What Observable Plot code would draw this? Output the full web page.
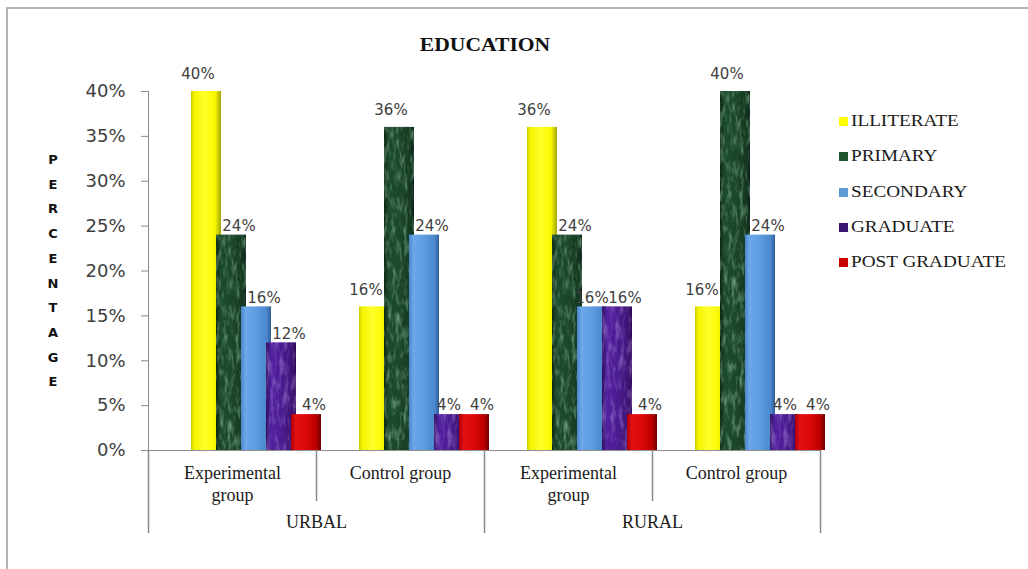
<!DOCTYPE html>
<html>
<head>
<meta charset="utf-8">
<script src="https://cdn.jsdelivr.net/npm/d3@7"></script>
<script src="https://cdn.jsdelivr.net/npm/@observablehq/plot@0.6"></script>
<style>
  html, body { margin: 0; padding: 0; background: #fff; }
  #chart { position: relative; width: 1028px; height: 569px; overflow: hidden; background: #fff; }
  #chart > svg.plot { position: absolute; left: 0; top: 0; }
  .frame-line { position: absolute; left: 6px; top: 7px; width: 1100px; height: 700px;
    border-top: 2px solid #b4b4b4; border-left: 2px solid #b4b4b4; }
  .title { position: absolute; left: 385px; width: 200px; top: 35px; text-align: center;
    font: bold 18px "Liberation Serif", serif; line-height: 20px; color: #111;
    transform: scaleX(1.2); transform-origin: center; }
  .ylabel { position: absolute; left: 43px; width: 20px; top: 148px; text-align: center;
    font: bold 13px "DejaVu Sans", sans-serif; line-height: 24.7px; color: #111; }
  .legend-item { position: absolute; left: 839px; height: 20px; white-space: nowrap;
    font: 17px "Liberation Serif", serif; line-height: 20px; color: #1a1a1a; }
  .legend-item .sw { position: absolute; left: 0; top: 6px; width: 9px; height: 9px; }
  .legend-item .lb { position: absolute; left: 12px; top: 0; transform: scaleX(1.13); transform-origin: left center; }
</style>
</head>
<body>
<!-- fills for the bars: shaded cylinders, two of them with a mottled texture -->
<svg width="0" height="0" style="position:absolute">
  <defs>
    <linearGradient id="gYellow" x1="0" x2="1" y1="0" y2="0">
      <stop offset="0" stop-color="#c8c800"/>
      <stop offset="0.1" stop-color="#f4f400"/>
      <stop offset="0.45" stop-color="#ffff2a"/>
      <stop offset="0.8" stop-color="#f8f800"/>
      <stop offset="1" stop-color="#a3a300"/>
    </linearGradient>
    <linearGradient id="gGreen" x1="0" x2="1" y1="0" y2="0">
      <stop offset="0" stop-color="#0c2715"/>
      <stop offset="0.15" stop-color="#1c4b2c"/>
      <stop offset="0.55" stop-color="#1a4629"/>
      <stop offset="0.85" stop-color="#143822"/>
      <stop offset="1" stop-color="#091c0f"/>
    </linearGradient>
    <linearGradient id="gBlue" x1="0" x2="1" y1="0" y2="0">
      <stop offset="0" stop-color="#4a86c8"/>
      <stop offset="0.15" stop-color="#6aa8ea"/>
      <stop offset="0.5" stop-color="#5e9de0"/>
      <stop offset="0.85" stop-color="#4b89cf"/>
      <stop offset="1" stop-color="#2f5f99"/>
    </linearGradient>
    <linearGradient id="gPurple" x1="0" x2="1" y1="0" y2="0">
      <stop offset="0" stop-color="#2c0d58"/>
      <stop offset="0.15" stop-color="#5222a0"/>
      <stop offset="0.55" stop-color="#4a1b8e"/>
      <stop offset="0.85" stop-color="#3c1474"/>
      <stop offset="1" stop-color="#230948"/>
    </linearGradient>
    <linearGradient id="gRed" x1="0" x2="1" y1="0" y2="0">
      <stop offset="0" stop-color="#a50000"/>
      <stop offset="0.15" stop-color="#e21010"/>
      <stop offset="0.5" stop-color="#dc0808"/>
      <stop offset="0.85" stop-color="#b80000"/>
      <stop offset="1" stop-color="#6e0000"/>
    </linearGradient>
    <filter id="mottleGreen" x="0" y="0" width="1" height="1">
      <feTurbulence type="fractalNoise" baseFrequency="0.25 0.07" numOctaves="3" seed="7"/>
      <feColorMatrix type="matrix" values="0 0 0 0 0.32  0 0 0 0 0.56  0 0 0 0 0.39  1.5 0 0 0 -0.7"/>
    </filter>
    <filter id="mottlePurple" x="0" y="0" width="1" height="1">
      <feTurbulence type="fractalNoise" baseFrequency="0.22 0.06" numOctaves="3" seed="3"/>
      <feColorMatrix type="matrix" values="0 0 0 0 0.46  0 0 0 0 0.28  0 0 0 0 0.74  1.3 0 0 0 -0.6"/>
    </filter>
    <pattern id="pGreen" patternUnits="objectBoundingBox" width="1" height="1">
      <rect width="31" height="420" fill="url(#gGreen)"/>
      <rect width="31" height="420" filter="url(#mottleGreen)"/>
    </pattern>
    <pattern id="pPurple" patternUnits="objectBoundingBox" width="1" height="1">
      <rect width="31" height="420" fill="url(#gPurple)"/>
      <rect width="31" height="420" filter="url(#mottlePurple)"/>
    </pattern>
  </defs>
</svg>

<div id="chart">
  <div class="frame-line"></div>
</div>

<script>
// Education level by area and group (percent of respondents)
const groupAreas = ["URBAL", "URBAL", "RURAL", "RURAL"];
const groupNames = ["Experimental group", "Control group", "Experimental group", "Control group"];
const groupTickLabels = ["Experimental\ngroup", "Control group", "Experimental\ngroup", "Control group"];
const areas = ["URBAL", "RURAL"];
const categories = ["ILLITERATE", "PRIMARY", "SECONDARY", "GRADUATE", "POST GRADUATE"];

const illiterate   = [40, 16, 36, 16];
const primary      = [24, 36, 24, 40];
const secondary    = [16, 24, 16, 24];
const graduate     = [12, 4, 16, 4];
const postGraduate = [4, 4, 4, 4];

const yTicks = [0, 5, 10, 15, 20, 25, 30, 35, 40];

const barFills = ["url(#gYellow)", "url(#pGreen)", "url(#gBlue)", "url(#pPurple)", "url(#gRed)"];
const swatchColors = ["#ffff00", "#1e5631", "#5b9bd5", "#3b1670", "#c80000"];

const series = [illiterate, primary, secondary, graduate, postGraduate];
const groupKeys = groupAreas.map((a, i) => `${a} · ${groupNames[i]}`);
const rows = groupKeys.flatMap((group, i) =>
  categories.map((category, j) => {
    const value = series[j][i];
    const next = j + 1 < series.length ? series[j + 1][i] : null;
    return {
      group, category, value,
      // a label rides higher (and a little left) when its bar tops the group
      // or the bar to its right is taller, so the neighbour does not hide it
      raised: value === d3.max(series, s => s[i]) || (next !== null && next > value),
      // a lower label stays closer to its bar when the next bar is level with it
      level: next === value
    };
  })
);
const groupLabelRows = groupKeys.map((key, i) => ({key, label: groupTickLabels[i]}));
// each area label sits on the boundary between its two groups
const areaLabelRows = areas.map(area => ({key: groupKeys[groupAreas.lastIndexOf(area)], label: area}));

// a plain straight stroke for the category-axis dividers
const lineShape = {draw(context, l) { context.moveTo(0, 0); context.lineTo(0, -l); }};
const axisGray = "#8c8c8c";
const valueLabel = {
  fx: "group", x: "category", y: "value", text: d => `${d.value}%`,
  lineAnchor: "middle", fontFamily: "DejaVu Sans", fontSize: 15, fill: "#404040"
};

const plot = Plot.plot({
  width: 1028,
  height: 569,
  marginLeft: 147,
  marginRight: 207,
  marginTop: 91,
  marginBottom: 119,
  fx: {domain: groupKeys, padding: 0, axis: null},
  x: {domain: categories, paddingInner: 0, paddingOuter: 0.75, align: 1, axis: null},
  y: {domain: [0, 40], axis: null},
  color: {domain: categories, range: barFills},
  style: {background: "transparent", overflow: "visible"},
  marks: [
    Plot.barY(rows, {fx: "group", x: "category", y: "value", fill: "category", insetRight: -5}),
    Plot.text(rows.filter(d => d.raised), {...valueLabel, dx: -6, dy: -17}),
    Plot.text(rows.filter(d => !d.raised && !d.level), {...valueLabel, dx: 10, dy: -9}),
    Plot.text(rows.filter(d => !d.raised && d.level), {...valueLabel, dx: 2, dy: -9}),
    Plot.ruleY([0], {stroke: axisGray}),
    Plot.frame({anchor: "left", facetAnchor: "left", stroke: axisGray}),
    Plot.axisY(yTicks, {
      tickFormat: d => `${d}%`, tickSize: 7, tickPadding: 16, label: null,
      fontFamily: "DejaVu Sans", fontSize: 18, stroke: axisGray, fill: "#404040"
    }),
    // long dividers bound each area, short ones split the groups inside it
    Plot.vector(groupKeys.filter((k, i) => i === 0 || groupAreas[i] !== groupAreas[i - 1]), {
      fx: d => d, frameAnchor: "bottom-left", rotate: 180, anchor: "start",
      length: 82, shape: lineShape, stroke: axisGray
    }),
    Plot.vector(groupKeys.slice(-1), {
      fx: d => d, frameAnchor: "bottom-right", rotate: 180, anchor: "start",
      length: 82, shape: lineShape, stroke: axisGray
    }),
    Plot.vector(groupKeys.filter((k, i) => i > 0 && groupAreas[i] === groupAreas[i - 1]), {
      fx: d => d, frameAnchor: "bottom-left", rotate: 180, anchor: "start",
      length: 50, shape: lineShape, stroke: axisGray
    }),
    Plot.text(groupLabelRows, {
      fx: "key", text: "label", frameAnchor: "bottom", lineAnchor: "top", dy: 14, lineHeight: 1.17,
      fontFamily: "Liberation Serif", fontSize: 18, fill: "#1a1a1a", ariaLabel: "serif labels"
    }),
    Plot.text(areaLabelRows, {
      fx: "key", text: "label", frameAnchor: "bottom-left", textAnchor: "middle", lineAnchor: "top", dy: 65,
      fontFamily: "Liberation Serif", fontSize: 18, fill: "#1a1a1a", ariaLabel: "serif labels"
    })
  ]
});
plot.classList.add("plot");

const chart = document.getElementById("chart");
chart.appendChild(plot);

// the serif labels are set slightly wide
plot.querySelectorAll('g[aria-label="serif labels"] text').forEach(t => {
  const spans = t.querySelectorAll("tspan");
  (spans.length ? Array.from(spans) : [t]).forEach(el => {
    const w = el.getComputedTextLength();
    el.setAttribute("textLength", (w * 1.2).toFixed(1));
    el.setAttribute("lengthAdjust", "spacingAndGlyphs");
  });
});

// title
const title = document.createElement("div");
title.className = "title";
title.textContent = "EDUCATION";
chart.appendChild(title);

// vertical axis title, one letter per line
const ylabel = document.createElement("div");
ylabel.className = "ylabel";
ylabel.innerHTML = "PERCENTAGE".split("").join("<br>");
chart.appendChild(ylabel);

// legend
const legendTop = 111, legendStep = 35.3;
categories.forEach((c, i) => {
  const item = document.createElement("div");
  item.className = "legend-item";
  item.style.top = `${legendTop + i * legendStep}px`;
  item.innerHTML = `<span class="sw" style="background:${swatchColors[i]}"></span><span class="lb">${c}</span>`;
  chart.appendChild(item);
});
</script>
</body>
</html>
